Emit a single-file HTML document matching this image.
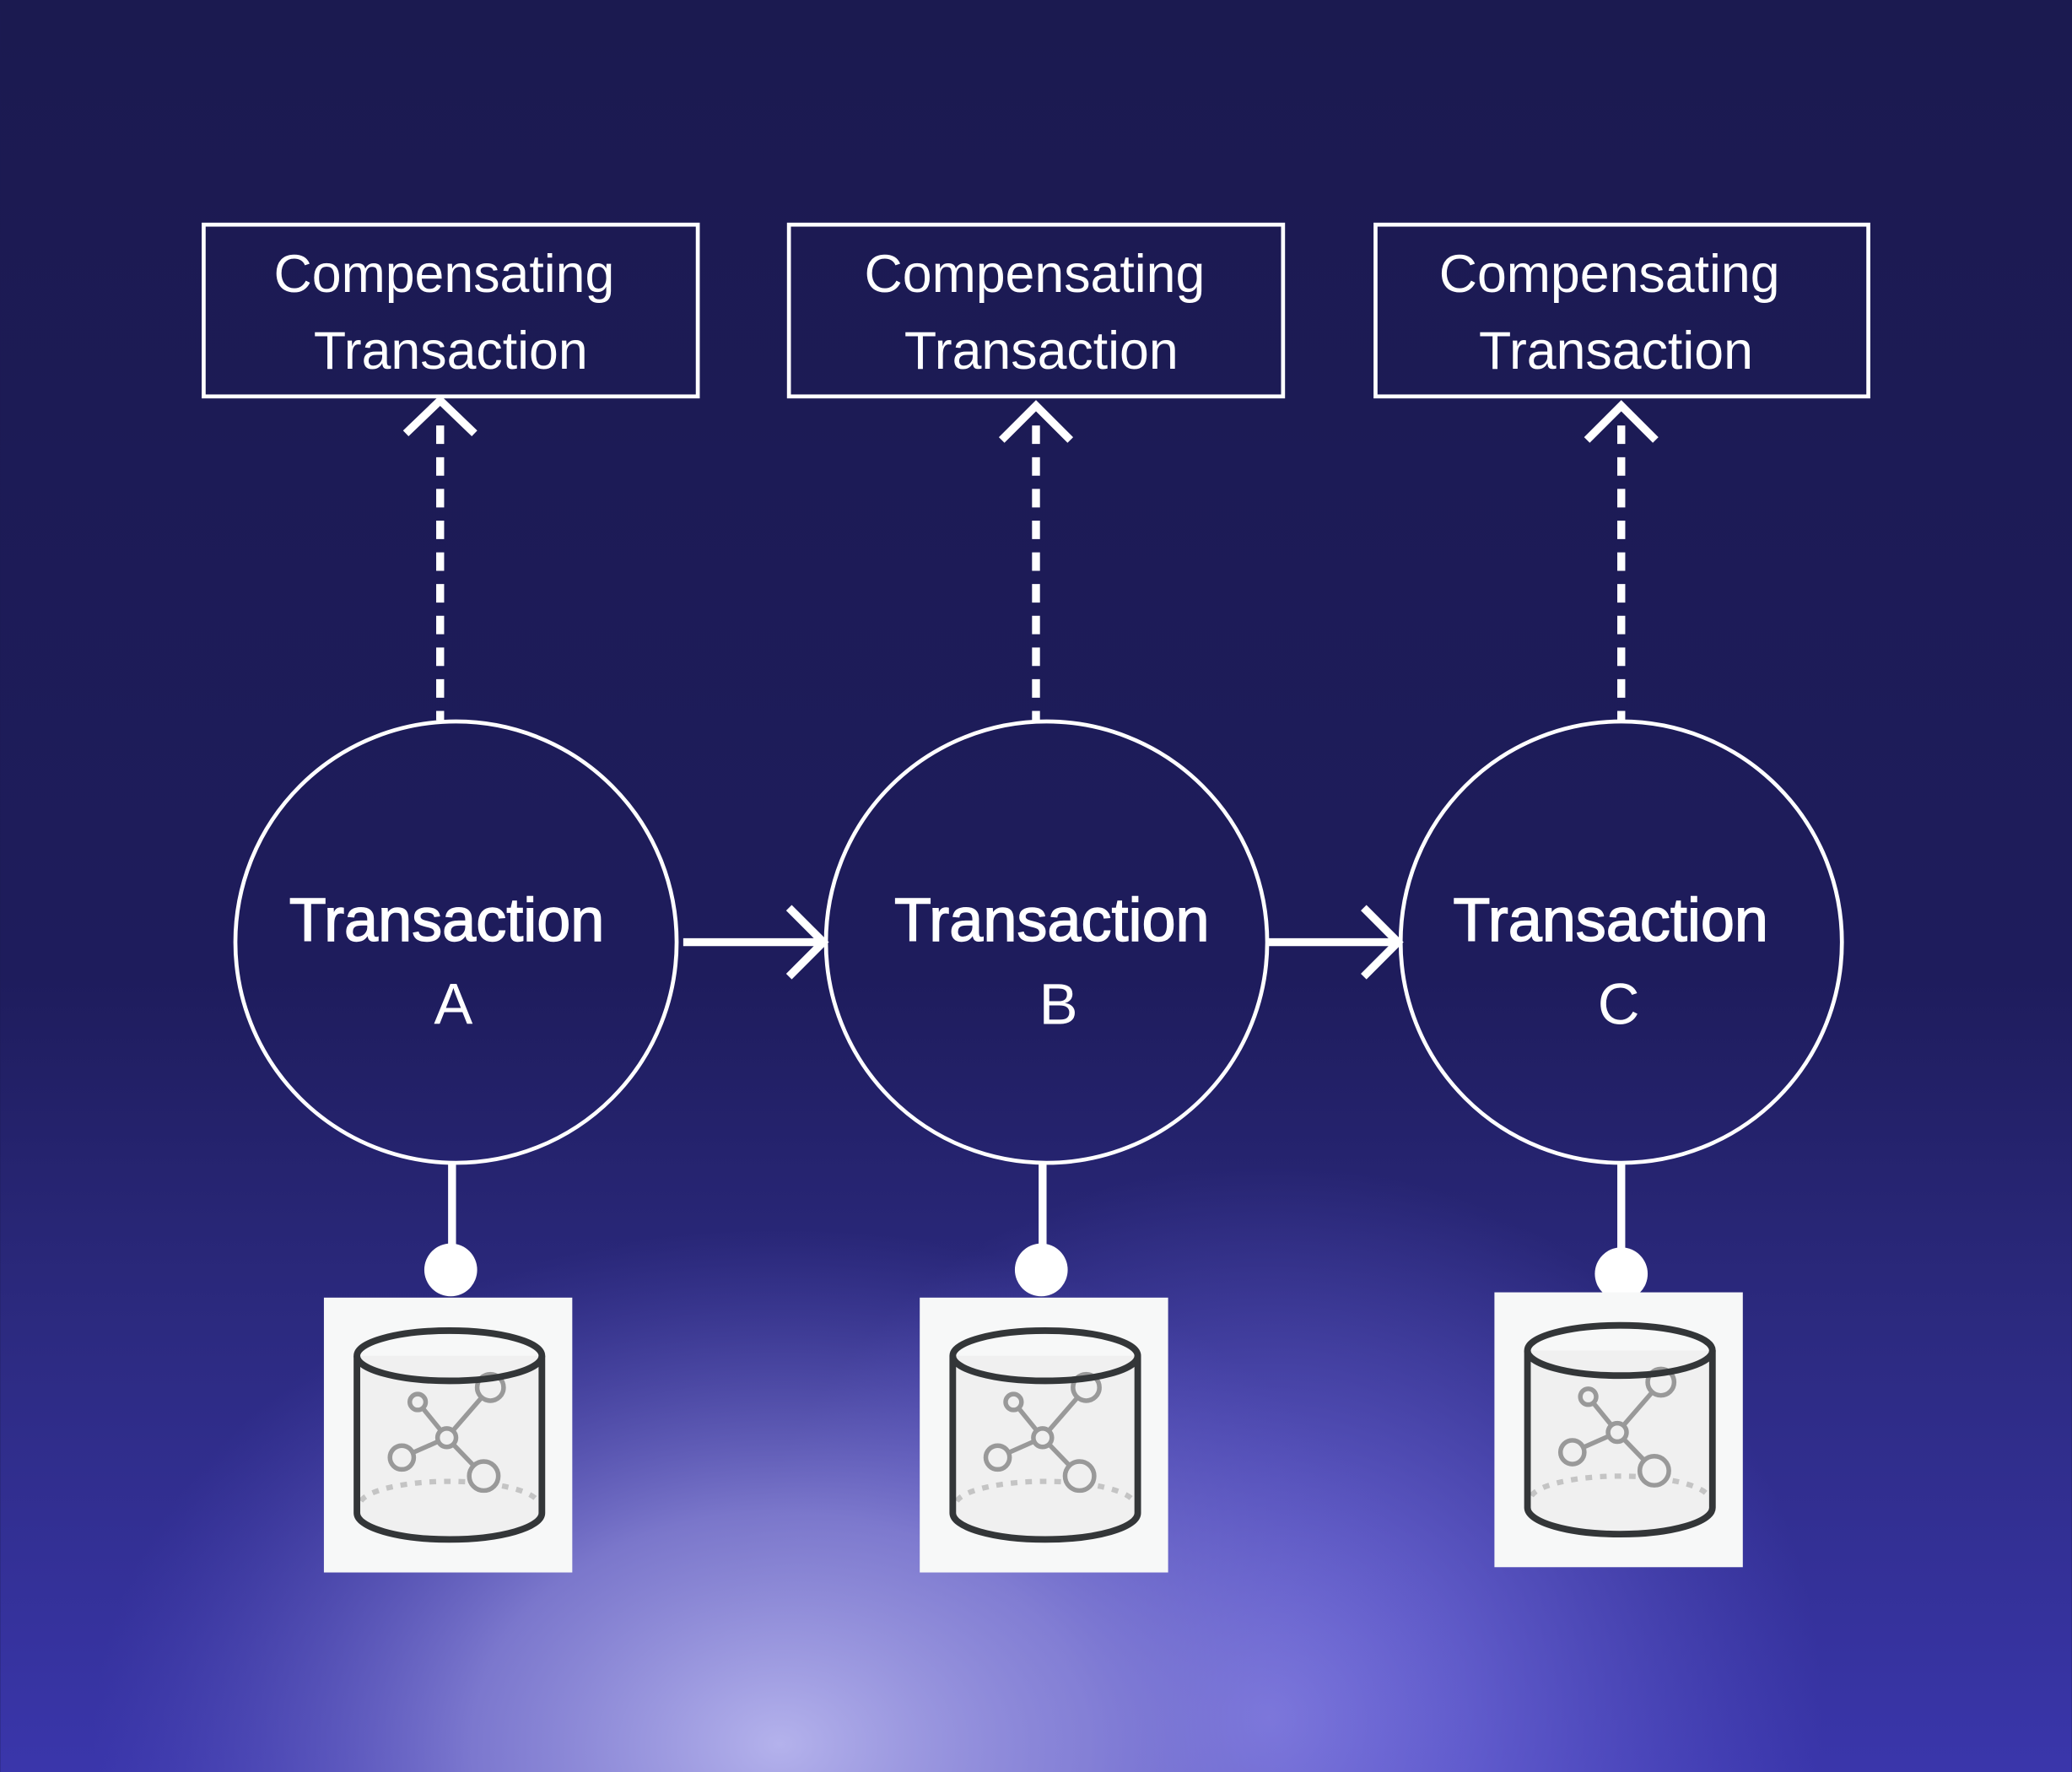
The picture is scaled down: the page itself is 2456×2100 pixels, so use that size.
<!DOCTYPE html>
<html><head><meta charset="utf-8"><style>
html,body{margin:0;padding:0;background:#1b1a52;}
svg{display:block;}
</style></head><body>
<svg width="2456" height="2100" viewBox="0 0 1568 1341" xmlns="http://www.w3.org/2000/svg" font-family="Liberation Sans, sans-serif">
<defs>
<linearGradient id="bg" x1="0" y1="0" x2="0" y2="1">
<stop offset="0" stop-color="#1b1a50"/>
<stop offset="0.55" stop-color="#1e1c5c"/>
<stop offset="0.75" stop-color="#2c2a80"/>
<stop offset="1" stop-color="#3a36ab"/>
</linearGradient>
<radialGradient id="g1" cx="590" cy="1320" r="520" gradientUnits="userSpaceOnUse" gradientTransform="translate(590 1320) scale(1 0.75) translate(-590 -1320)">
<stop offset="0" stop-color="#b4b2ec" stop-opacity="1"/>
<stop offset="0.45" stop-color="#8c88d8" stop-opacity="0.8"/>
<stop offset="1" stop-color="#5a55c0" stop-opacity="0"/>
</radialGradient>
<radialGradient id="g2" cx="960" cy="1300" r="420" gradientUnits="userSpaceOnUse">
<stop offset="0" stop-color="#8a84ec" stop-opacity="0.9"/>
<stop offset="1" stop-color="#6a64e0" stop-opacity="0"/>
</radialGradient>
<g id="db">
<rect x="0" y="0" width="188" height="208" fill="#f7f8f8"/>
<path d="M25 44 L25 163 A70 20 0 0 0 165 163 L165 44 Z" fill="#f0f0f0"/>
<path d="M28 154 A68 18 0 0 1 162 154" fill="none" stroke="#c4c4c4" stroke-width="4" stroke-dasharray="5 6"/>
<g stroke="#999" stroke-width="3.5" fill="none">
<line x1="93" y1="106" x2="71" y2="79"/>
<line x1="93" y1="106" x2="126" y2="68"/>
<line x1="93" y1="106" x2="59" y2="121"/>
<line x1="93" y1="106" x2="121" y2="135"/>
<circle cx="93" cy="106" r="7" fill="#f0f0f0"/>
<circle cx="71" cy="79" r="6" fill="#f0f0f0"/>
<circle cx="126" cy="68" r="10" fill="#f0f0f0"/>
<circle cx="59" cy="121" r="9" fill="#f0f0f0"/>
<circle cx="121" cy="135" r="11" fill="#f0f0f0"/>
</g>
<g stroke="#333638" stroke-width="5" fill="none">
<ellipse cx="95" cy="44" rx="70" ry="19"/>
<path d="M25 44 L25 163 A70 20 0 0 0 165 163 L165 44"/>
</g>
</g>
</defs>
<rect width="1568" height="1341" fill="url(#bg)"/>
<rect width="1568" height="1341" fill="url(#g2)"/>
<rect width="1568" height="1341" fill="url(#g1)"/>

<g fill="none" stroke="#fff" stroke-width="3">
<rect x="154" y="170" width="374" height="130"/>
<rect x="597" y="170" width="374" height="130"/>
<rect x="1041" y="170" width="373" height="130"/>
<circle cx="345" cy="713" r="167"/>
<circle cx="792" cy="713" r="167"/>
<circle cx="1227" cy="713" r="167"/>
</g>
<g fill="#fff" font-size="40" text-anchor="middle">
<text x="336" y="221">Compensating</text><text x="341" y="279">Transaction</text>
<text x="783" y="221">Compensating</text><text x="788" y="279">Transaction</text>
<text x="1218" y="221">Compensating</text><text x="1223" y="279">Transaction</text>
</g>
<g fill="#fff" font-size="46" text-anchor="middle" stroke="#fff" stroke-width="0.9">
<text x="338" y="712">Transaction</text>
<text x="796" y="712">Transaction</text>
<text x="1219" y="712">Transaction</text>
</g>
<g fill="#fff" font-size="44" text-anchor="middle">
<text x="343" y="775">A</text>
<text x="801" y="775">B</text>
<text x="1225" y="775">C</text>
</g>
<g stroke="#fff" stroke-width="6" fill="none">
<line x1="333" y1="322" x2="333" y2="545" stroke-dasharray="14 10"/>
<line x1="784" y1="322" x2="784" y2="545" stroke-dasharray="14 10"/>
<line x1="1227" y1="322" x2="1227" y2="545" stroke-dasharray="14 10"/>
<polyline points="307,328 333,303 359,328"/>
<polyline points="758,333 784,307 810,333"/>
<polyline points="1201,333 1227,307 1253,333"/>
<line x1="517" y1="713" x2="622" y2="713"/>
<polyline points="597,687 623,713 597,739"/>
<line x1="960" y1="713" x2="1057" y2="713"/>
<polyline points="1032,687 1058,713 1032,739"/>
<line x1="342" y1="880" x2="342" y2="945"/>
<line x1="789" y1="880" x2="789" y2="945"/>
<line x1="1227" y1="880" x2="1227" y2="948"/>
</g>
<g fill="#fff">
<circle cx="341" cy="961" r="20"/>
<circle cx="788" cy="961" r="20"/>
<circle cx="1227" cy="964" r="20"/>
</g>
<use href="#db" x="245" y="982"/>
<use href="#db" x="696" y="982"/>
<use href="#db" x="1131" y="978"/>
</svg>
</body></html>
